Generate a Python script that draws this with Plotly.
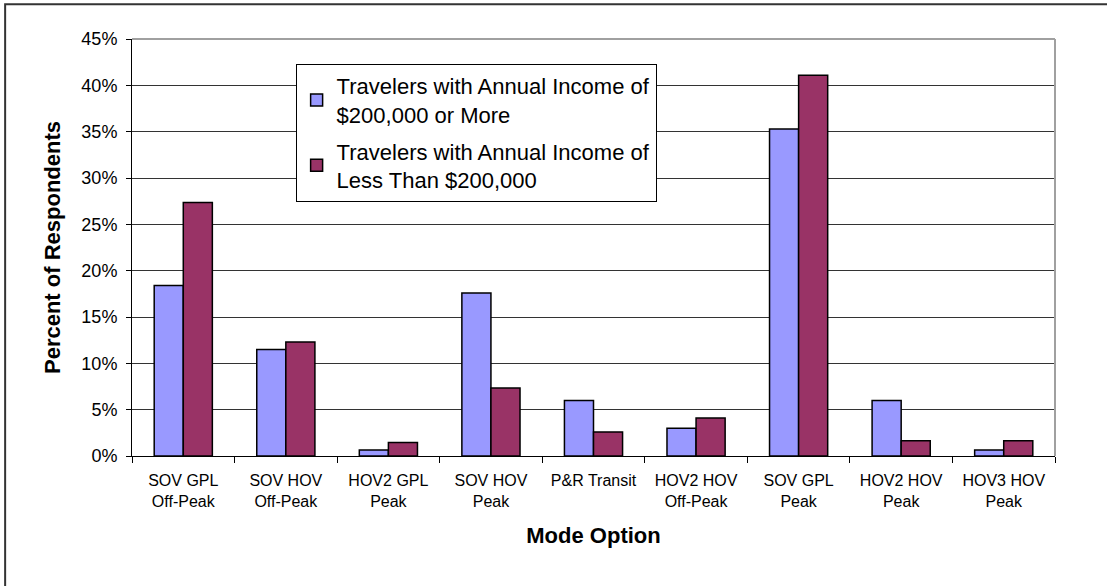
import plotly.graph_objects as go

categories = ["SOV GPL<br>Off-Peak", "SOV HOV<br>Off-Peak", "HOV2 GPL<br>Peak", "SOV HOV<br>Peak",
              "P&R Transit", "HOV2 HOV<br>Off-Peak", "SOV GPL<br>Peak", "HOV2 HOV<br>Peak", "HOV3 HOV<br>Peak"]
high_income = [18.4, 11.5, 0.65, 17.6, 6.0, 3.0, 35.3, 6.0, 0.65]
low_income = [27.35, 12.3, 1.45, 7.35, 2.6, 4.1, 41.1, 1.65, 1.65]
series_names = ["Travelers with Annual Income of<br>$200,000 or More",
                "Travelers with Annual Income of<br>Less Than $200,000"]
y_ticks = list(range(0, 50, 5))

FONT = "Liberation Sans, Arial, sans-serif"

fig = go.Figure()
fig.add_trace(go.Bar(x=categories, y=high_income, name=series_names[0], legendgroup="hi",
                     marker=dict(color="#9999FF", line=dict(color="black", width=1.5))))
fig.add_trace(go.Bar(x=categories, y=low_income, name=series_names[1], legendgroup="lo",
                     marker=dict(color="#993366", line=dict(color="black", width=1.5))))

L, R, T, B = 131.5, 51.5, 39.3, 130
W, H = 1107, 586
pw, ph = W - L - R, H - T - B

def px_x(p):
    return (p - L) / pw

def px_y(p):
    return (H - B - p) / ph

fig.update_layout(
    width=W, height=H,
    margin=dict(l=L, r=R, t=T, b=B, autoexpand=False),
    paper_bgcolor="white", plot_bgcolor="white",
    font=dict(family=FONT, color="black"),
    barmode="group", bargap=0.433, bargroupgap=0,
    showlegend=True,
    legend=dict(x=px_x(295.3), y=px_y(64.3), xanchor="left", yanchor="top",
                bgcolor="white", bordercolor="black", borderwidth=1,
                font=dict(size=22, family=FONT), tracegroupgap=5),
    xaxis=dict(showline=True, linecolor="black", linewidth=1,
               ticks="outside", tickson="boundaries", ticklen=6, tickcolor="black",
               tickfont=dict(size=16), showgrid=False, ticklabelstandoff=10,
               title=dict(text="<b>Mode Option</b>", font=dict(size=22), standoff=18)),
    yaxis=dict(range=[0, 45], tickvals=y_ticks, ticktext=[f"{v}%" for v in y_ticks],
               showline=True, linecolor="black", linewidth=1,
               ticks="outside", ticklen=5, tickcolor="black", ticklabelstandoff=5,
               tickfont=dict(size=18), showgrid=True, gridcolor="#333333", gridwidth=1,
               zeroline=False,
               title=dict(text="<b>Percent of Respondents</b>", font=dict(size=22), standoff=14)),
    shapes=[
        dict(type="line", xref="paper", yref="paper", x0=0, x1=1, y0=1, y1=1,
             line=dict(color="#a0a0a0", width=2)),
        dict(type="line", xref="paper", yref="paper", x0=1, x1=1, y0=0, y1=1,
             line=dict(color="#a0a0a0", width=2)),
        dict(type="rect", xref="paper", yref="paper",
             x0=px_x(4.5), x1=px_x(1112), y0=px_y(592), y1=px_y(4.5),
             line=dict(color="#333333", width=2), fillcolor="rgba(0,0,0,0)"),
    ],
)

fig.write_html("out.html")
